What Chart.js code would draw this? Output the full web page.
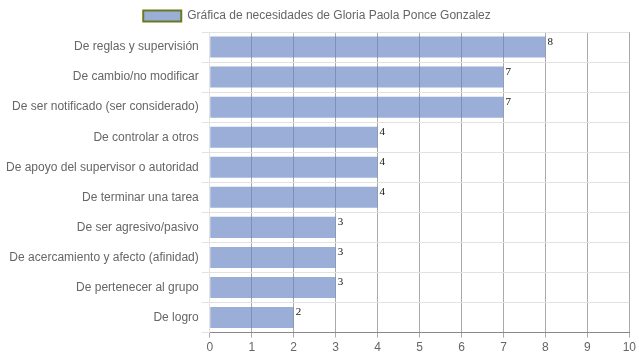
<!DOCTYPE html>
<html>
<head>
<meta charset="utf-8">
<script src="https://cdn.jsdelivr.net/npm/chart.js@4"></script>
<style>
	html, body { margin: 0; padding: 0; background: #fff; }
	#wrap { width: 639px; height: 360px; }
</style>
</head>
<body>
<div id="wrap"><canvas id="chart"></canvas></div>
<script>
const categories = [
	"De reglas y supervisión",
	"De cambio/no modificar",
	"De ser notificado (ser considerado)",
	"De controlar a otros",
	"De apoyo del supervisor o autoridad",
	"De terminar una tarea",
	"De ser agresivo/pasivo",
	"De acercamiento y afecto (afinidad)",
	"De pertenecer al grupo",
	"De logro"
]
const values = [8, 7, 7, 4, 4, 4, 3, 3, 3, 2]
const seriesName = "Gráfica de necesidades de Gloria Paola Ponce Gonzalez"

// values written at the end of each bar
const valueLabels = {
	id: 'valueLabels',
	afterDatasetsDraw(chart) {
		const ctx = chart.ctx
		const meta = chart.getDatasetMeta(0)
		ctx.save()
		ctx.font = '11px "Liberation Serif", "DejaVu Serif", serif'
		ctx.fillStyle = '#111'
		ctx.textAlign = 'left'
		ctx.textBaseline = 'top'
		meta.data.forEach((bar, i) => {
			ctx.fillText(values[i], bar.x + 2, bar.y - bar.height / 2)
		})
		ctx.restore()
	}
}

Chart.defaults.font.family = '"Liberation Sans", Arial, sans-serif'
Chart.defaults.font.size = 12
Chart.defaults.color = '#666'

new Chart(document.getElementById('chart'), {
	type: 'bar',
	data: {
		labels: categories,
		datasets: [{
			label: seriesName,
			data: values,
			backgroundColor: 'rgba(100,130,195,0.65)',
			borderWidth: 0,
			barPercentage: 0.7,
			categoryPercentage: 1
		}]
	},
	options: {
		indexAxis: 'y',
		responsive: true,
		maintainAspectRatio: false,
		animation: false,
		layout: { padding: { right: 8, left: 3, bottom: 2 } },
		plugins: {
			legend: {
				labels: {
					boxWidth: 38,
					boxHeight: 11,
					color: '#666',
					generateLabels: () => [{
						text: seriesName,
						fillStyle: 'rgba(100,130,195,0.65)',
						strokeStyle: '#6b7a1f',
						lineWidth: 2,
						fontColor: '#666'
					}]
				}
			},
			tooltip: { enabled: false }
		},
		scales: {
			x: {
				min: 0,
				max: 10,
				ticks: { stepSize: 1, color: '#666' },
				grid: { color: '#aaa', drawTicks: true, tickLength: 5 },
				border: { color: '#888' }
			},
			y: {
				ticks: { color: '#666' },
				grid: { color: '#e2e2e2', offset: true, drawTicks: true, tickLength: 8 },
				border: { color: '#e2e2e2' }
			}
		}
	},
	plugins: [valueLabels]
})
</script>
</body>
</html>
